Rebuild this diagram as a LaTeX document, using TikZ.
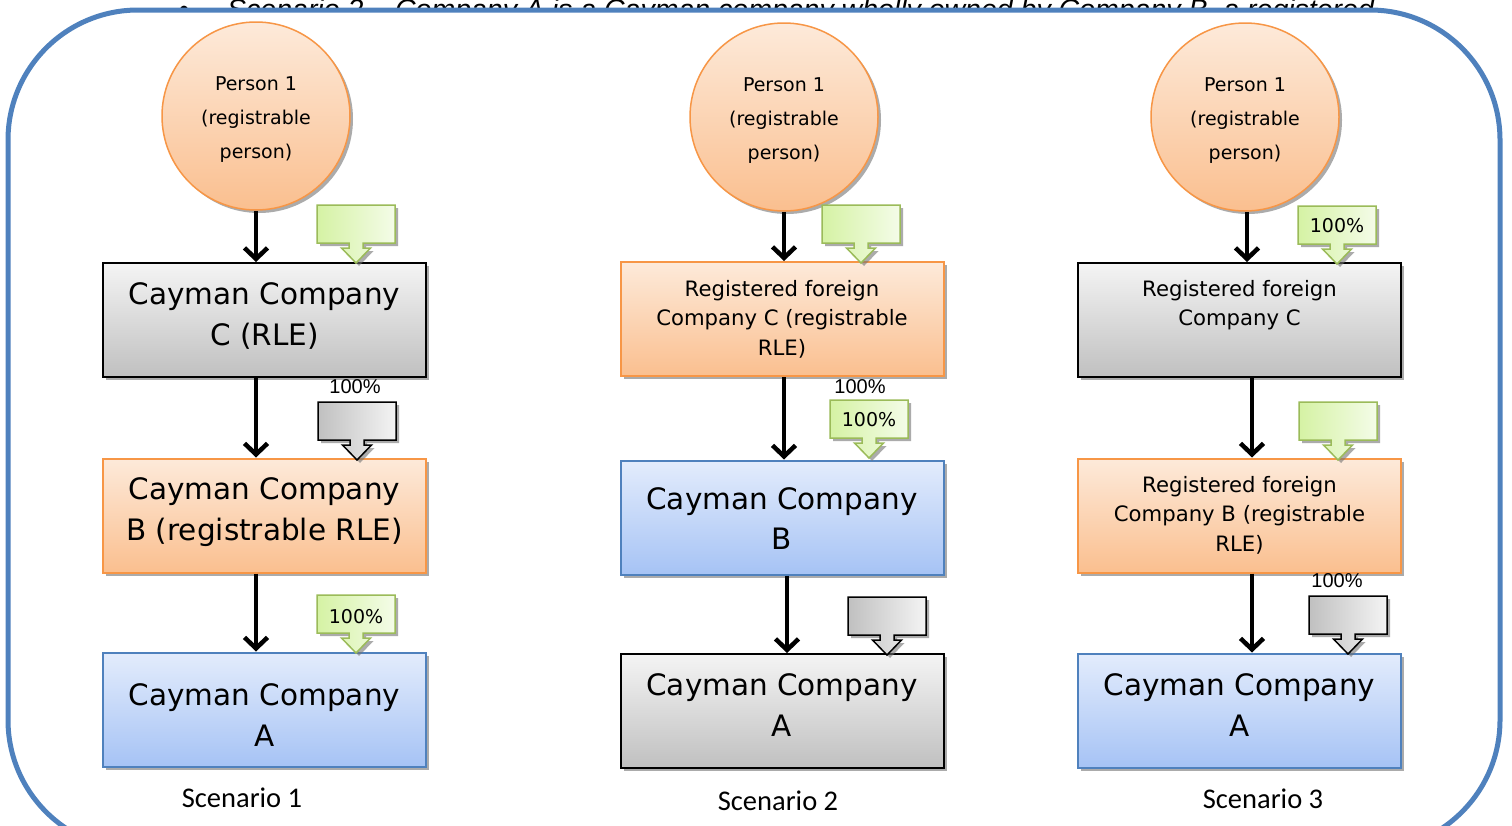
\documentclass[tikz,border=0pt]{standalone}
\usepackage{fontspec}
\setmainfont{DejaVu Sans}
\newfontfamily\calfont{Carlito}
\newfontfamily\arifont{Liberation Sans}
\usetikzlibrary{arrows.meta,shadows,calc}
\definecolor{frameblue}{HTML}{4F81BD}
\definecolor{orbord}{HTML}{F79646}
\definecolor{ortop}{HTML}{FDEADA}
\definecolor{orbot}{HTML}{FABF8F}
\definecolor{grtop}{HTML}{F4F4F4}
\definecolor{grbot}{HTML}{C0C0C0}
\definecolor{bltop}{HTML}{E3ECFC}
\definecolor{blbot}{HTML}{A6C3F5}
\definecolor{gnbord}{HTML}{9BBB59}
\definecolor{gnleft}{HTML}{D5F2A4}
\definecolor{gnright}{HTML}{F4FCE8}
\tikzset{
  myshadow/.style={drop shadow={shadow xshift=3pt,shadow yshift=-3pt,opacity=0.6,fill=black!55}},
  boxbase/.style={rectangle,minimum width=323pt,minimum height=114pt,inner sep=0pt,line width=2pt,myshadow},
  graybox/.style={boxbase,draw=black,top color=grtop,bottom color=grbot},
  orangebox/.style={boxbase,draw=orbord,top color=ortop,bottom color=orbot},
  bluebox/.style={boxbase,draw=frameblue,top color=bltop,bottom color=blbot},
  circ/.style={circle,minimum size=188pt,inner sep=0pt,draw=orbord,line width=1.5pt,top color=ortop,bottom color=orbot,myshadow},
  circtxt/.style={align=center,inner sep=0pt,yshift=-4pt,font=\fontsize{19}{34}\selectfont},
  bigtxt/.style={align=center,inner sep=0pt,font=\fontsize{29.5}{40.5}\selectfont},
  smalltxt/.style={align=center,inner sep=0pt,font=\fontsize{21.2}{29.5}\selectfont},
  arr/.style={line width=4.5pt,-{Straight Barb[length=11pt,width=23pt]}},
  greencall/.style={draw=gnbord,line width=1.5pt,left color=gnleft,right color=gnright,myshadow},
  graycall/.style={draw=black,line width=1.5pt,left color=grbot,right color=grtop,myshadow},
  ctxt/.style={inner sep=0pt,font=\fontsize{19}{20}\selectfont},
  pct/.style={inner sep=0pt,font=\arifont\fontsize{20}{22}\selectfont},
  scen/.style={inner sep=0pt,font=\calfont\fontsize{28.5}{32}\selectfont}
}
\newcommand\callout[3]{%
  \path[#3] (#1,#2) -- ++(78,0) -- ++(0,38) -- ++(-32,0) -- ++(0,5) -- ++(7.5,0)
    -- ++(-14.5,15) -- ++(-14.5,-15) -- ++(7.5,0) -- ++(0,-5) -- ++(-32,0) -- cycle;}
\begin{document}
\begin{tikzpicture}[x=1pt,y=-1pt]
\useasboundingbox (0,0) rectangle (1512,825);
% heading text partly hidden behind the frame, as in the reference
\node[anchor=base,inner sep=0pt,font=\arifont\fontsize{28.5}{34}\selectfont] (bul) at (184,19) {•};
\node[anchor=base west,inner sep=0pt,font=\arifont\itshape\fontsize{28.5}{34}\selectfont] (hdr) at (227,19) {Scenario 2 – Company A is a Cayman company wholly owned by Company B, a registered};
\draw[frameblue,line width=5pt,fill=white,rounded corners=130pt] (8,10) rectangle (1500,850);

% ---------- Scenario 1 ----------
\node[circ] (p1) at (256,116) {};
\node[circtxt] (p1t) at (p1) {Person 1\\(registrable\\person)};
\node[graybox] (c1) at (264.5,320) {};
\node[bigtxt] (c1t) at (264.5,316) {Cayman Company\\C (RLE)};
\node[orangebox] (b1) at (264.5,515.5) {};
\node[bigtxt] (b1t) at (264.5,512) {Cayman Company\\B (registrable RLE)};
\node[bluebox] (a1) at (264.5,709.5) {};
\node[bigtxt] (a1t) at (264.5,715) {Cayman Company\\A};
\draw[arr] (p1.south) -- (p1.south |- c1.north);
\draw[arr] (c1.south -| p1) -- (b1.north -| p1);
\draw[arr] (b1.south -| p1) -- (a1.north -| p1);
\callout{317}{205}{greencall}
\callout{318}{402}{graycall}
\callout{317}{595}{greencall}
\node[ctxt] (g1t) at (356,617) {100\%};
\node[pct] (q1) at (355,387) {100\%};
\node[scen] (s1) at (242,798) {Scenario 1};

% ---------- Scenario 2 ----------
\node[circ] (p2) at (784,117) {};
\node[circtxt] (p2t) at (p2) {Person 1\\(registrable\\person)};
\node[orangebox] (c2) at (782,319) {};
\node[smalltxt] (c2t) at (782,319) {Registered foreign\\Company C (registrable\\RLE)};
\node[bluebox] (b2) at (782,517.5) {};
\node[bigtxt] (b2t) at (782,518.5) {Cayman Company\\B};
\node[graybox] (a2) at (782,711) {};
\node[bigtxt] (a2t) at (782,705) {Cayman Company\\A};
\draw[arr] (p2.south) -- (p2.south |- c2.north);
\draw[arr] (c2.south -| p2) -- (b2.north -| p2);
\draw[arr] ([xshift=3pt]p2.south |- b2.south) -- ([xshift=3pt]p2.south |- a2.north);
\callout{822}{205}{greencall}
\callout{830}{400}{greencall}
\node[ctxt] (g2t) at (869,420) {100\%};
\callout{848}{597}{graycall}
\node[pct] (q2) at (860,387) {100\%};
\node[scen] (s2) at (778,801) {Scenario 2};

% ---------- Scenario 3 ----------
\node[circ] (p3) at (1245,117) {};
\node[circtxt] (p3t) at (p3) {Person 1\\(registrable\\person)};
\node[graybox] (c3) at (1239.5,320) {};
\node[smalltxt] (c3t) at (1239.5,305) {Registered foreign\\Company C};
\node[orangebox] (b3) at (1239.5,515.5) {};
\node[smalltxt] (b3t) at (1239.5,515) {Registered foreign\\Company B (registrable\\RLE)};
\node[bluebox] (a3) at (1239.5,710.5) {};
\node[bigtxt] (a3t) at (1239.5,705) {Cayman Company\\A};
\draw[arr] ([xshift=2pt]p3.south) -- ([xshift=2pt]p3.south |- c3.north);
\draw[arr] ([xshift=7pt]p3.south |- c3.south) -- ([xshift=7pt]p3.south |- b3.north);
\draw[arr] ([xshift=7pt]p3.south |- b3.south) -- ([xshift=7pt]p3.south |- a3.north);
\callout{1298}{206}{greencall}
\node[ctxt] (g3t) at (1337,226) {100\%};
\callout{1299}{402}{greencall}
\callout{1309}{596}{graycall}
\node[pct] (q3) at (1337,581) {100\%};
\node[scen] (s3) at (1263,799) {Scenario 3};
\end{tikzpicture}
\end{document}
